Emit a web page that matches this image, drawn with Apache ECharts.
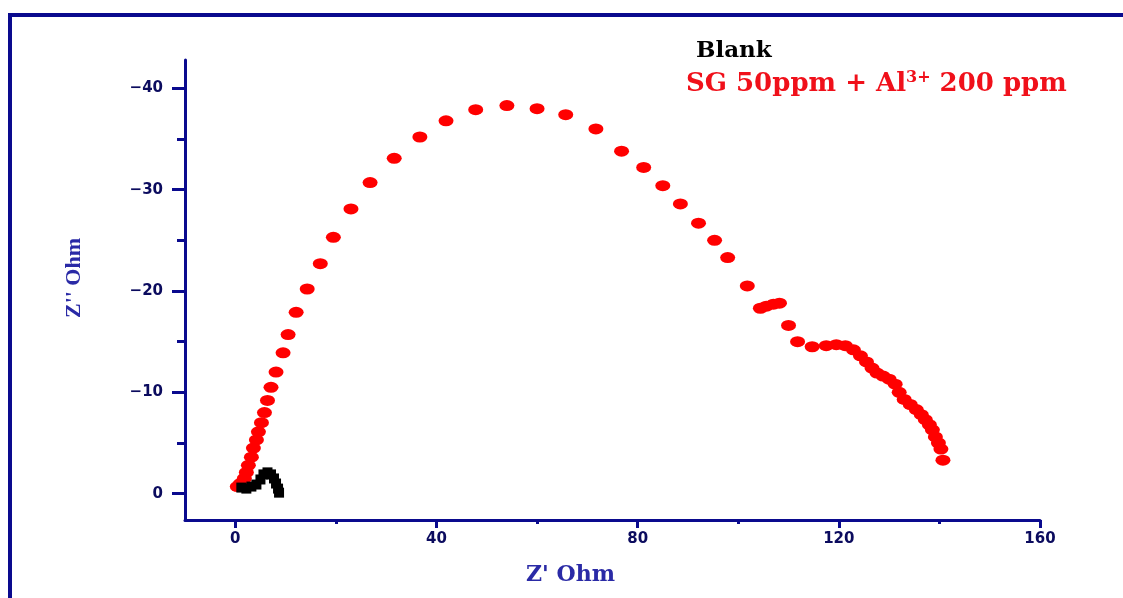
<!DOCTYPE html>
<html>
<head>
<meta charset="utf-8">
<script src="https://cdn.jsdelivr.net/npm/echarts@6/dist/echarts.min.js"></script>
<style>
  html, body { margin: 0; padding: 0; background: #fff; }
  #chart { width: 1123px; height: 598px; }
</style>
</head>
<body>
<div id="chart"></div>
<script>
// Z' (Ohm) and Z'' (Ohm)
var sgX = [0.4, 1.0, 1.8, 2.2, 2.6, 3.2, 3.6, 4.2, 4.6, 5.2, 5.8, 6.4, 7.1, 8.1, 9.5, 10.5, 12.1, 14.3, 16.9, 19.5,
           23.0, 26.8, 31.6, 36.7, 41.9, 47.8, 54.0, 60.0, 65.7, 71.7, 76.8, 81.2, 85.0, 88.5, 92.1, 95.3, 97.9, 101.8,
           104.4, 105.6, 107.0, 108.2, 110.0, 111.8, 114.7, 117.5, 119.5, 121.3, 122.9, 124.3, 125.5, 126.6, 127.6,
           128.8, 130.0, 131.2, 132.0, 133.0, 134.2, 135.4, 136.4, 137.2, 138.0, 138.6, 139.2, 139.8, 140.3, 140.7];
var sgY = [-0.7, -1.0, -1.5, -2.1, -2.8, -3.6, -4.5, -5.3, -6.1, -7.0, -8.0, -9.2, -10.5, -12.0, -13.9, -15.7, -17.9,
           -20.2, -22.7, -25.3, -28.1, -30.7, -33.1, -35.2, -36.8, -37.9, -38.3, -38.0, -37.4, -36.0, -33.8, -32.2,
           -30.4, -28.6, -26.7, -25.0, -23.3, -20.5, -18.3, -18.5, -18.7, -18.8, -16.6, -15.0, -14.5, -14.6, -14.7,
           -14.6, -14.2, -13.6, -13.0, -12.4, -11.9, -11.6, -11.3, -10.8, -10.0, -9.3, -8.8, -8.3, -7.8, -7.3, -6.8,
           -6.3, -5.6, -5.0, -4.4, -3.3];
var blankX = [1.2, 2.2, 3.2, 4.2, 5.0, 5.6, 6.4, 7.1, 7.7, 8.1, 8.5, 8.7];
var blankY = [-0.6, -0.5, -0.7, -0.9, -1.4, -1.9, -2.1, -1.9, -1.5, -1.0, -0.5, -0.1];

var xLabels = [0, 40, 80, 120, 160];
var xMinor = [20, 60, 100, 140];
var yLabels = [0, -10, -20, -30, -40];
var yMinor = [-5, -15, -25, -35];

var sgName = 'SG 50ppm + Al3+ 200 ppm';
var blankName = 'Blank';

function pairs(xs, ys) {
  return xs.map(function (x, i) { return [x, ys[i]]; });
}

var navy = '#0a0a8e';
var labelColor = '#0b0b5e';
var nameColor = '#2a2aa6';

var myChart = echarts.init(document.getElementById('chart'));

var baseX = {
  type: 'value', min: -10, max: 160, gridIndex: 0, position: 'bottom',
  splitLine: { show: false }
};
var baseY = {
  type: 'value', min: -42.8, max: 2.6, inverse: true, gridIndex: 0, position: 'left',
  splitLine: { show: false }
};

var option = {
  backgroundColor: '#fff',
  animation: false,
  graphic: [{
    type: 'rect',
    shape: { x: 10, y: 15, width: 1200, height: 700 },
    style: { fill: 'none', stroke: navy, lineWidth: 4 }
  }],
  legend: [{
    data: [{ name: blankName }],
    left: 686, top: 35,
    itemWidth: 0, itemHeight: 0, itemGap: 0,
    selectedMode: false,
    textStyle: { color: '#000', fontFamily: 'DejaVu Serif', fontWeight: 'bold', fontSize: 23 }
  }, {
    data: [{ name: sgName }],
    left: 676, top: 65,
    itemWidth: 0, itemHeight: 0, itemGap: 0,
    selectedMode: false,
    formatter: function () { return '{t|SG 50ppm + Al}{s|3+}{t| 200 ppm}'; },
    textStyle: {
      color: '#f0101a', fontFamily: 'DejaVu Serif', fontWeight: 'bold', fontSize: 26,
      rich: {
        t: { color: '#f0101a', fontFamily: 'DejaVu Serif', fontWeight: 'bold', fontSize: 26 },
        s: { color: '#f0101a', fontFamily: 'DejaVu Serif', fontWeight: 'bold', fontSize: 16, verticalAlign: 'top', padding: [0, 0, 12, 0] }
      }
    }
  }],
  grid: { left: 185, top: 60, right: 83, bottom: 78 },
  xAxis: [
    Object.assign({}, baseX, {
      name: "Z' Ohm",
      nameLocation: 'middle',
      nameGap: 44,
      nameTextStyle: { color: nameColor, fontFamily: 'DejaVu Serif', fontWeight: 'bold', fontSize: 22, padding: [0, 84, 0, 0] },
      axisLine: { show: true, onZero: false, lineStyle: { color: navy, width: 3 } },
      axisTick: { show: true, customValues: xLabels, length: 8, lineStyle: { color: navy, width: 3 } },
      axisLabel: { customValues: xLabels, margin: 12, color: labelColor, fontFamily: 'DejaVu Sans', fontWeight: 'bold', fontSize: 15 }
    }),
    Object.assign({}, baseX, {
      axisLine: { show: false, onZero: false },
      axisTick: { show: true, customValues: xMinor, length: 4, lineStyle: { color: navy, width: 3 } },
      axisLabel: { show: false }
    })
  ],
  yAxis: [
    Object.assign({}, baseY, {
      name: "Z'' Ohm",
      nameLocation: 'middle',
      nameGap: 100,
      nameTextStyle: { color: nameColor, fontFamily: 'Liberation Serif', fontWeight: 'bold', fontSize: 22, padding: [0, 0, 0, 24] },
      axisLine: { show: true, onZero: false, lineStyle: { color: navy, width: 3 } },
      axisTick: { show: true, customValues: yLabels, length: 13, lineStyle: { color: navy, width: 3 } },
      axisLabel: {
        customValues: yLabels, margin: 22, color: labelColor, fontFamily: 'DejaVu Sans', fontWeight: 'bold', fontSize: 15,
        formatter: function (v) { return String(v).replace('-', '\u2212'); }
      }
    }),
    Object.assign({}, baseY, {
      axisLine: { show: false, onZero: false },
      axisTick: { show: true, customValues: yMinor, length: 8, lineStyle: { color: navy, width: 3 } },
      axisLabel: { show: false }
    })
  ],
  series: [{
    name: sgName,
    type: 'scatter',
    xAxisIndex: 0, yAxisIndex: 0,
    symbol: 'circle',
    symbolSize: [15, 11],
    itemStyle: { color: '#ff0000', opacity: 1 },
    data: pairs(sgX, sgY),
    z: 2
  }, {
    name: blankName,
    type: 'scatter',
    xAxisIndex: 0, yAxisIndex: 0,
    symbol: 'rect',
    symbolSize: [10, 10],
    itemStyle: { color: '#000', opacity: 1 },
    data: pairs(blankX, blankY),
    z: 3
  }]
};

myChart.setOption(option);
window.addEventListener('resize', function () {
  myChart.resize();
});
</script>
</body>
</html>
